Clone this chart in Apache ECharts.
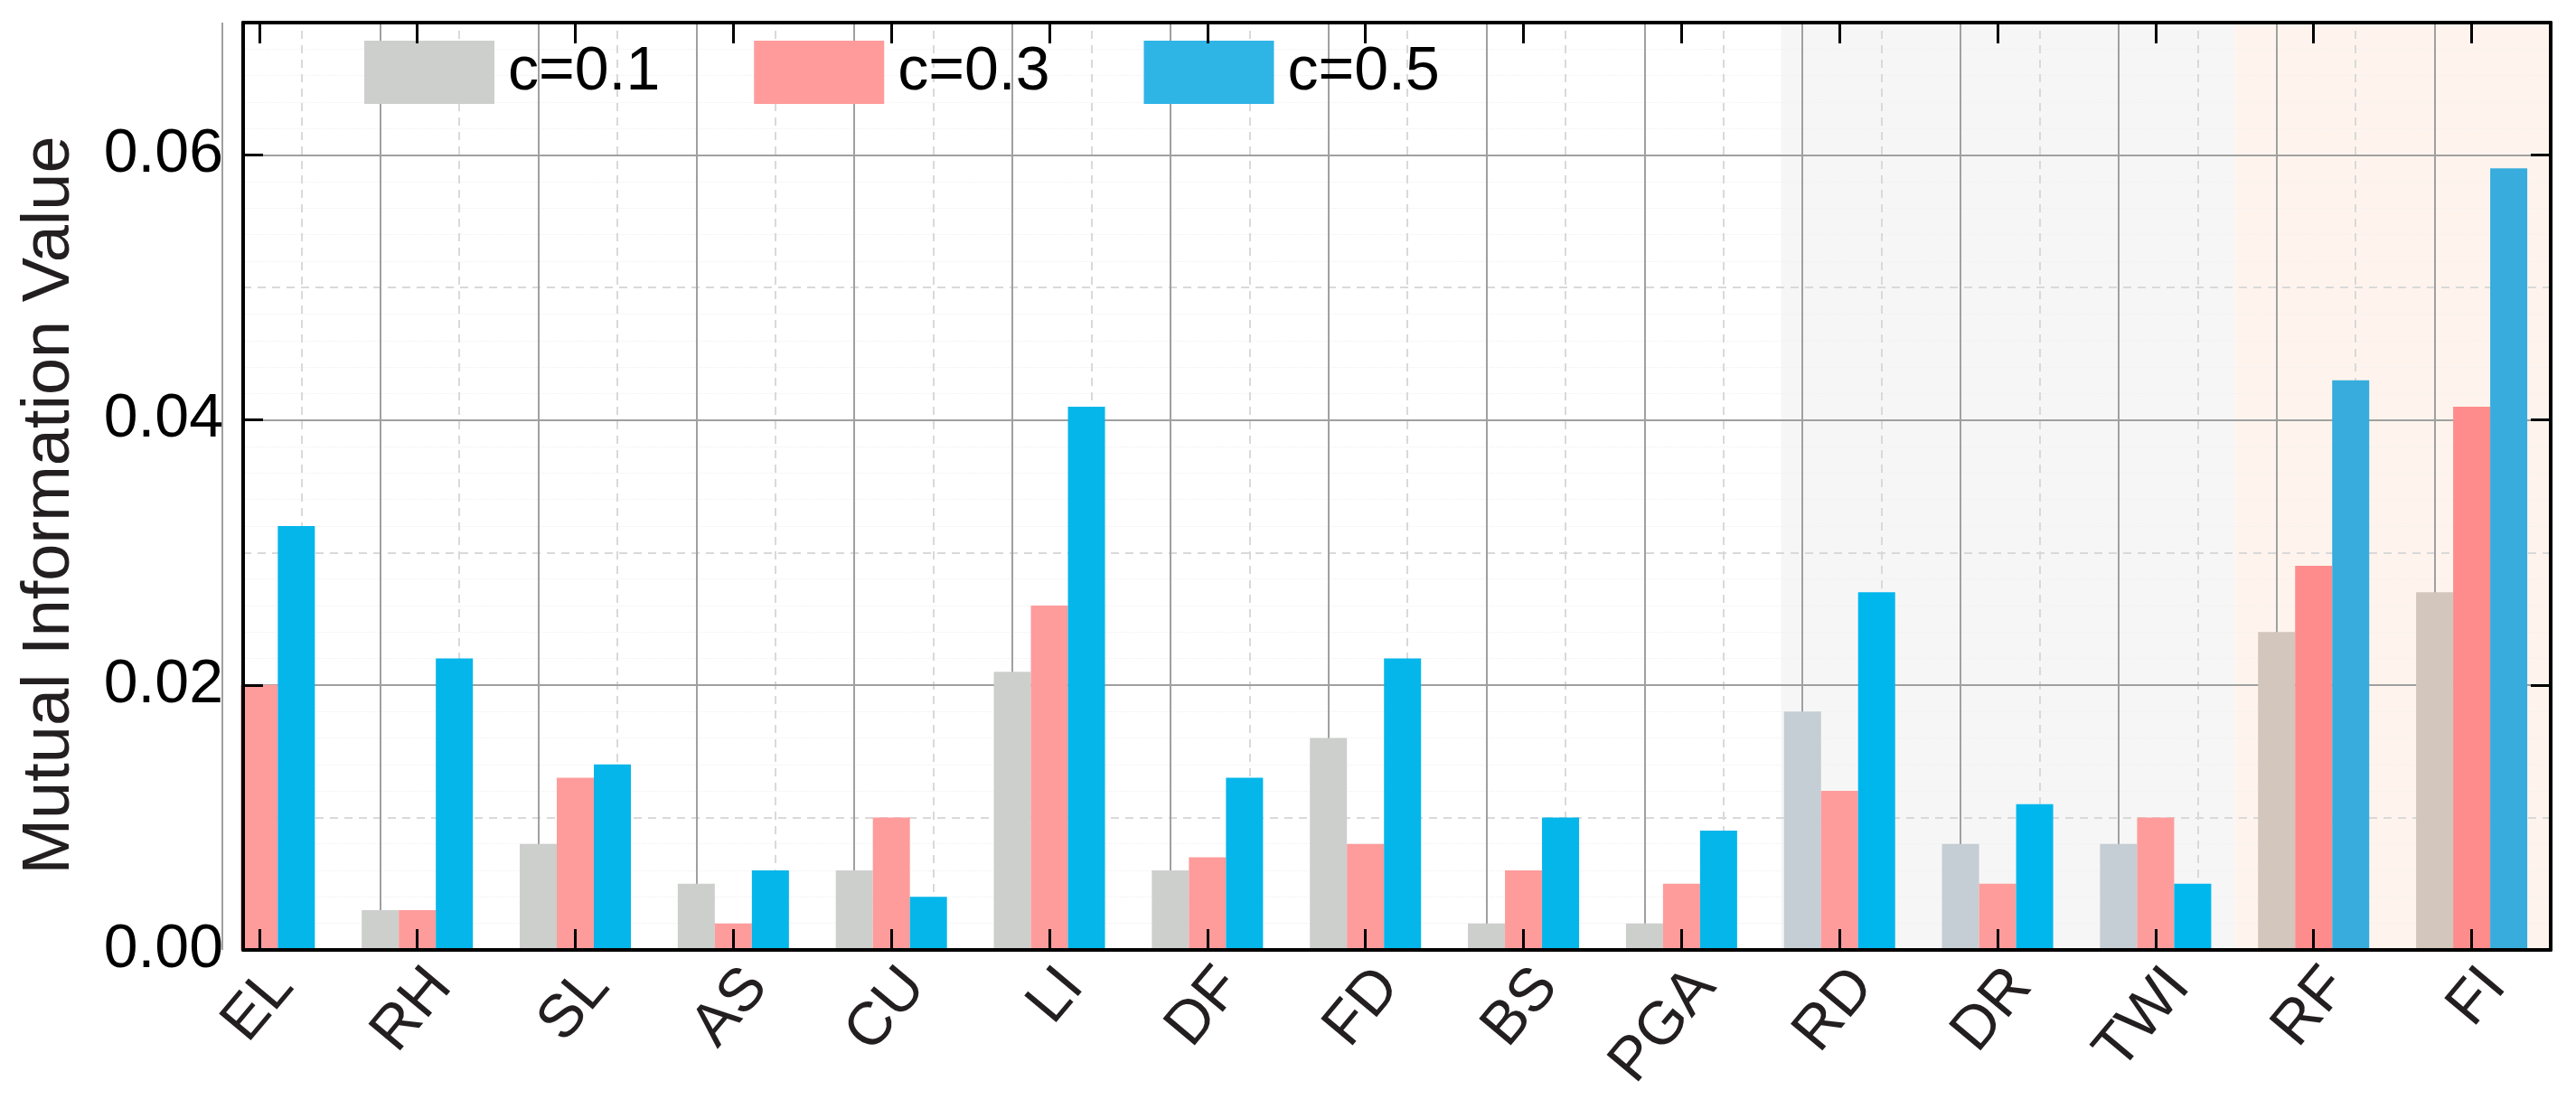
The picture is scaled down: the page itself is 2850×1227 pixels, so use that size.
<!DOCTYPE html>
<html>
<head>
<meta charset="utf-8">
<script src="https://cdn.jsdelivr.net/npm/echarts@6/dist/echarts.min.js"></script>
<style>
html,body{margin:0;padding:0;background:#fff;}
#chart{width:2850px;height:1227px;}
</style>
</head>
<body>
<div id="chart"></div>
<script>
// ---- data ----
const categories = ['EL','RH','SL','AS','CU','LI','DF','FD','BS','PGA','RD','DR','TWI','RF','FI'];
const seriesNames = ['c=0.1','c=0.3','c=0.5'];
const c01 = [null, 0.003, 0.008, 0.005, 0.006, 0.021, 0.006, 0.016, 0.002, 0.002, 0.018, 0.008, 0.008, 0.024, 0.027];
const c03 = [0.020, 0.003, 0.013, 0.002, 0.010, 0.026, 0.007, 0.008, 0.006, 0.005, 0.012, 0.005, 0.010, 0.029, 0.041];
const c05 = [0.032, 0.022, 0.014, 0.006, 0.004, 0.041, 0.013, 0.022, 0.010, 0.009, 0.027, 0.011, 0.005, 0.043, 0.059];
const yTicks = [0, 0.02, 0.04, 0.06];
// shaded groups (in category index units)
const grayBand = [9.63, 12.5];
const peachBand = [12.5, 14.5];

// ---- styling ----
const FONT = 'Liberation Sans, Arial, sans-serif';
const catIdx = categories.map((_, i) => i);
const halfIdx = categories.slice(0, -1).map((_, i) => i + 0.5);
const X_MIN = -0.102, X_MAX = 14.5, Y_MAX = 0.07;

function colorFor(base, grayV, peachV) {
  return function (p) {
    const x = p.dataIndex;
    if (x >= peachBand[0]) return peachV;
    if (x >= grayBand[0]) return grayV;
    return base;
  };
}
const palette = [
  colorFor('#cccfcc', '#c4ced4', '#d3c6bc'),
  colorFor('#fe9b9b', '#fe9c9c', '#ff8c8c'),
  colorFor('#05b6ea', '#00b7ed', '#37acdd')
];
const legendColors = ['#cccfcc', '#ff9b9b', '#2fb4e6'];
const dataSets = [c01, c03, c05];

const chart = echarts.init(document.getElementById('chart'), null, {renderer: 'canvas'});

const series = dataSets.map((arr, k) => {
  const s = {
    name: seriesNames[k],
    type: 'bar',
    xAxisIndex: 0,
    yAxisIndex: 0,
    barWidth: 41,
    barGap: '0%',
    z: 2,
    itemStyle: {color: palette[k]},
    data: arr.map((v, i) => [i, v])
  };
  if (k === 0) {
    s.markArea = {
      silent: true,
      z: -5,
      data: [
        [{xAxis: grayBand[0], yAxis: 0, itemStyle: {color: '#f6f6f6'}}, {xAxis: grayBand[1], yAxis: Y_MAX}],
        [{xAxis: peachBand[0], yAxis: 0, itemStyle: {color: '#fff4ed'}}, {xAxis: peachBand[1], yAxis: Y_MAX}]
      ]
    };
    s.markLine = {
      silent: true,
      z: -3,
      symbol: 'none',
      label: {show: false},
      data: halfIdx.map(v => ({xAxis: v, lineStyle: {color: '#d9d9d9', width: 2, type: [9, 7]}}))
        .concat(catIdx.map(v => ({xAxis: v, lineStyle: {color: '#a0a0a0', width: 2, type: 'solid'}})))
    };
  }
  return s;
});

const option = {
  animation: false,
  backgroundColor: '#ffffff',
  grid: {left: 269, right: 28, top: 25, bottom: 176, containLabel: false, outerBoundsMode: 'none'},
  legend: {
    left: 403, top: 45, padding: 0,
    itemWidth: 144, itemHeight: 70, itemGap: 104,
    icon: 'rect',
    textStyle: {fontSize: 68, color: '#000', fontFamily: FONT, padding: [0, 0, 0, 10]},
    data: seriesNames.map((n, k) => ({name: n, itemStyle: {color: legendColors[k]}}))
  },
  xAxis: [
    {
      type: 'value', min: X_MIN, max: X_MAX, position: 'bottom', z: 10,
      axisLine: {show: true, onZero: false, lineStyle: {color: '#000', width: 4}},
      axisTick: {show: true, inside: true, length: 23, customValues: catIdx, lineStyle: {color: '#000', width: 3}},
      axisLabel: {
        customValues: catIdx,
        formatter: v => categories[Math.round(v)],
        rotate: 50, fontSize: 67, color: '#231f20', fontFamily: FONT, margin: 8,
        verticalAlign: 'top'
      },
      splitLine: {show: false}
    },
    {
      type: 'value', min: X_MIN, max: X_MAX, position: 'top', z: 10,
      axisLine: {show: true, onZero: false, lineStyle: {color: '#000', width: 4}},
      axisTick: {show: true, inside: true, length: 23, customValues: catIdx, lineStyle: {color: '#000', width: 3}},
      axisLabel: {show: false},
      splitLine: {show: false}
    }
  ],
  yAxis: [
    {
      type: 'value', min: 0, max: Y_MAX, interval: 0.02, position: 'left', z: 10,
      name: 'Mutual Information Value',
      nameLocation: 'middle', nameGap: 176,
      nameTextStyle: {fontSize: 74, color: '#231f20', fontFamily: FONT, padding: [0, 42, 0, 0]},
      axisLine: {show: true, onZero: false, lineStyle: {color: '#000', width: 4}},
      axisTick: {show: true, inside: true, length: 22, lineStyle: {color: '#000', width: 3}},
      axisLabel: {
        customValues: yTicks,
        formatter: v => v.toFixed(2),
        fontSize: 68, color: '#000', fontFamily: FONT, margin: 22
      },
      splitLine: {show: false}
    },
    {
      type: 'value', min: 0, max: Y_MAX, interval: 0.02, position: 'right', z: 10,
      axisLine: {show: true, onZero: false, lineStyle: {color: '#000', width: 4}},
      axisTick: {show: true, inside: true, length: 22, customValues: yTicks, lineStyle: {color: '#000', width: 3}},
      axisLabel: {show: false},
      splitLine: {show: false}
    },
    {
      type: 'value', min: 0, max: Y_MAX, interval: 0.02, position: 'left', z: -2,
      axisLine: {show: false}, axisTick: {show: false}, axisLabel: {show: false},
      splitLine: {show: true, lineStyle: {color: '#a0a0a0', width: 2, type: 'solid'}}
    },
    {
      type: 'value', min: 0, max: Y_MAX, interval: 0.01, position: 'right', z: -4,
      axisLine: {show: false}, axisTick: {show: false}, axisLabel: {show: false},
      minorTick: {show: false, splitNumber: 5},
      splitLine: {show: true, lineStyle: {color: '#d9d9d9', width: 2, type: [9, 7]}},
      minorSplitLine: {show: true, lineStyle: {color: '#f0f0f0', width: 1, type: 'dotted'}}
    }
  ],
  series: series
};
chart.setOption(option);
</script>
</body>
</html>
